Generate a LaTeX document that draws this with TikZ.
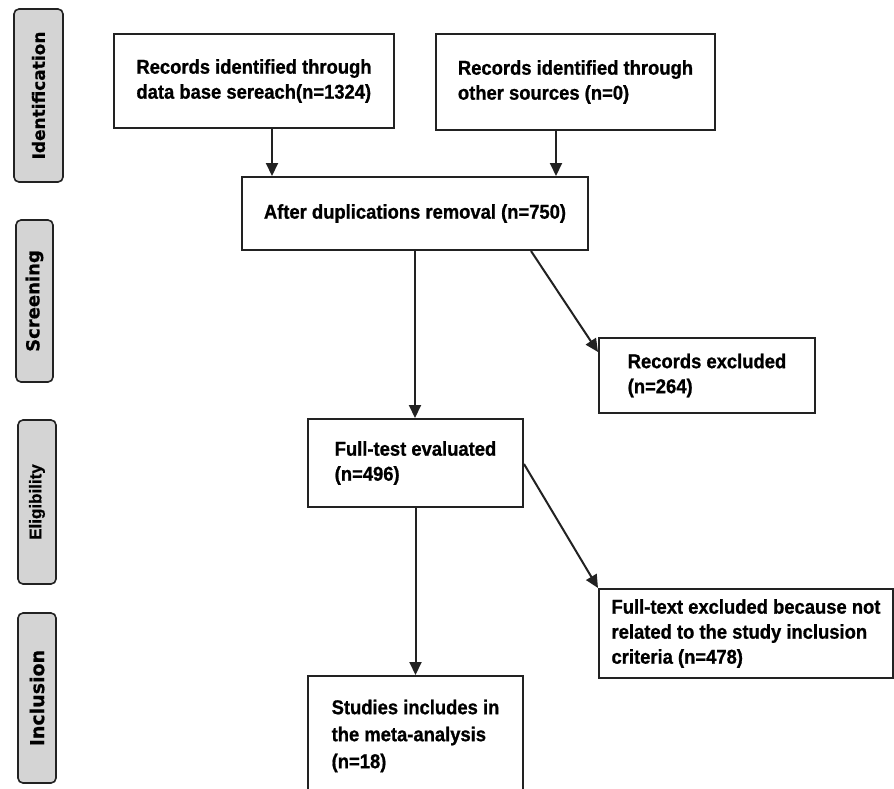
\documentclass[tikz,border=0pt]{standalone}
\usepackage{fontspec}
\setmainfont{Liberation Sans}
\newfontfamily\boxfont[FakeStretch=0.92, BoldFeatures={FakeBold=0.9}]{Liberation Sans}
\newfontfamily\sidefont[BoldFeatures={FakeBold=0.6}]{DejaVu Sans}
\newfontfamily\sidenarrow[BoldFeatures={FakeBold=0.6}]{Liberation Sans}
\usetikzlibrary{arrows.meta}
\definecolor{sidegrey}{HTML}{D4D4D4}
\definecolor{edge}{HTML}{222222}
\begin{document}
\begin{tikzpicture}[x=1pt,y=1pt,
  flowbox/.style={draw=edge, line width=2pt, fill=white, rectangle, anchor=north west,
    align=left, font=\boxfont\bfseries\fontsize{20}{25}\selectfont, inner sep=0pt},
  sidebox/.style={draw=edge, line width=1.6pt, fill=sidegrey, rounded corners=5pt,
    rotate=90, inner sep=0pt},
  sidetext/.style={font=\sidefont\bfseries\fontsize{#1}{20}\selectfont},
  arr/.style={draw=edge, line width=2pt, -{Triangle[length=13pt,width=12pt]}}]

\clip (0,0) rectangle (894,-788);
\fill[white] (0,0) rectangle (894,-788);

% side phase labels
\node[sidebox, sidetext=17, minimum width=173pt, minimum height=49pt] (idl) at (38.5,-95.5) {Identification};
\node[sidebox, sidetext=18, minimum width=162pt, minimum height=37pt] (scl) at (34.5,-301) {Screening};
\node[sidebox, font=\sidenarrow\bfseries\fontsize{17}{20}\selectfont, minimum width=164pt, minimum height=38pt] (ell) at (37,-502) {Eligibility};
\node[sidebox, sidetext=19, minimum width=170pt, minimum height=38pt] (inl) at (37,-698) {Inclusion};

% flow boxes
\node[flowbox, minimum width=280pt, minimum height=94pt] (rec1) at (113,-33)
  {Records identified through\\data base sereach(n=1324)};
\node[flowbox, minimum width=279pt, minimum height=96pt] (rec2) at (435,-33)
  {Records identified through\\other sources (n=0)};
\node[flowbox, minimum width=346pt, minimum height=73pt] (dup) at (241,-176)
  {After duplications removal (n=750)};
\node[flowbox, minimum width=216pt, minimum height=75pt] (rexcl) at (598,-337)
  {Records excluded\\(n=264)};
\node[flowbox, minimum width=215pt, minimum height=88pt] (full) at (307,-418)
  {Full-test evaluated\\(n=496)};
\node[flowbox, minimum width=294pt, minimum height=89pt] (excl2) at (598,-588)
  {Full-text excluded because not\\related to the study inclusion\\criteria (n=478)};
\node[flowbox, minimum width=215pt, minimum height=120pt,
      font=\boxfont\bfseries\fontsize{20}{27}\selectfont] (stud) at (307,-675)
  {Studies includes in\\the meta-analysis\\(n=18)};

% connectors
\draw[arr] ([xshift=18pt]rec1.south) -- ([xshift=18pt]rec1.south |- dup.north);
\draw[arr] ([xshift=-19.5pt]rec2.south) -- ([xshift=-19.5pt]rec2.south |- dup.north);
\draw[arr] (dup.south) -- (dup.south |- full.north);
\draw[arr] ([xshift=116pt]dup.south) -- ([yshift=-15pt]rexcl.north west);
\draw[arr] ([yshift=-1pt]full.east) -- (excl2.north west);
\draw[arr] (full.south) -- (stud.north);
\end{tikzpicture}
\end{document}
